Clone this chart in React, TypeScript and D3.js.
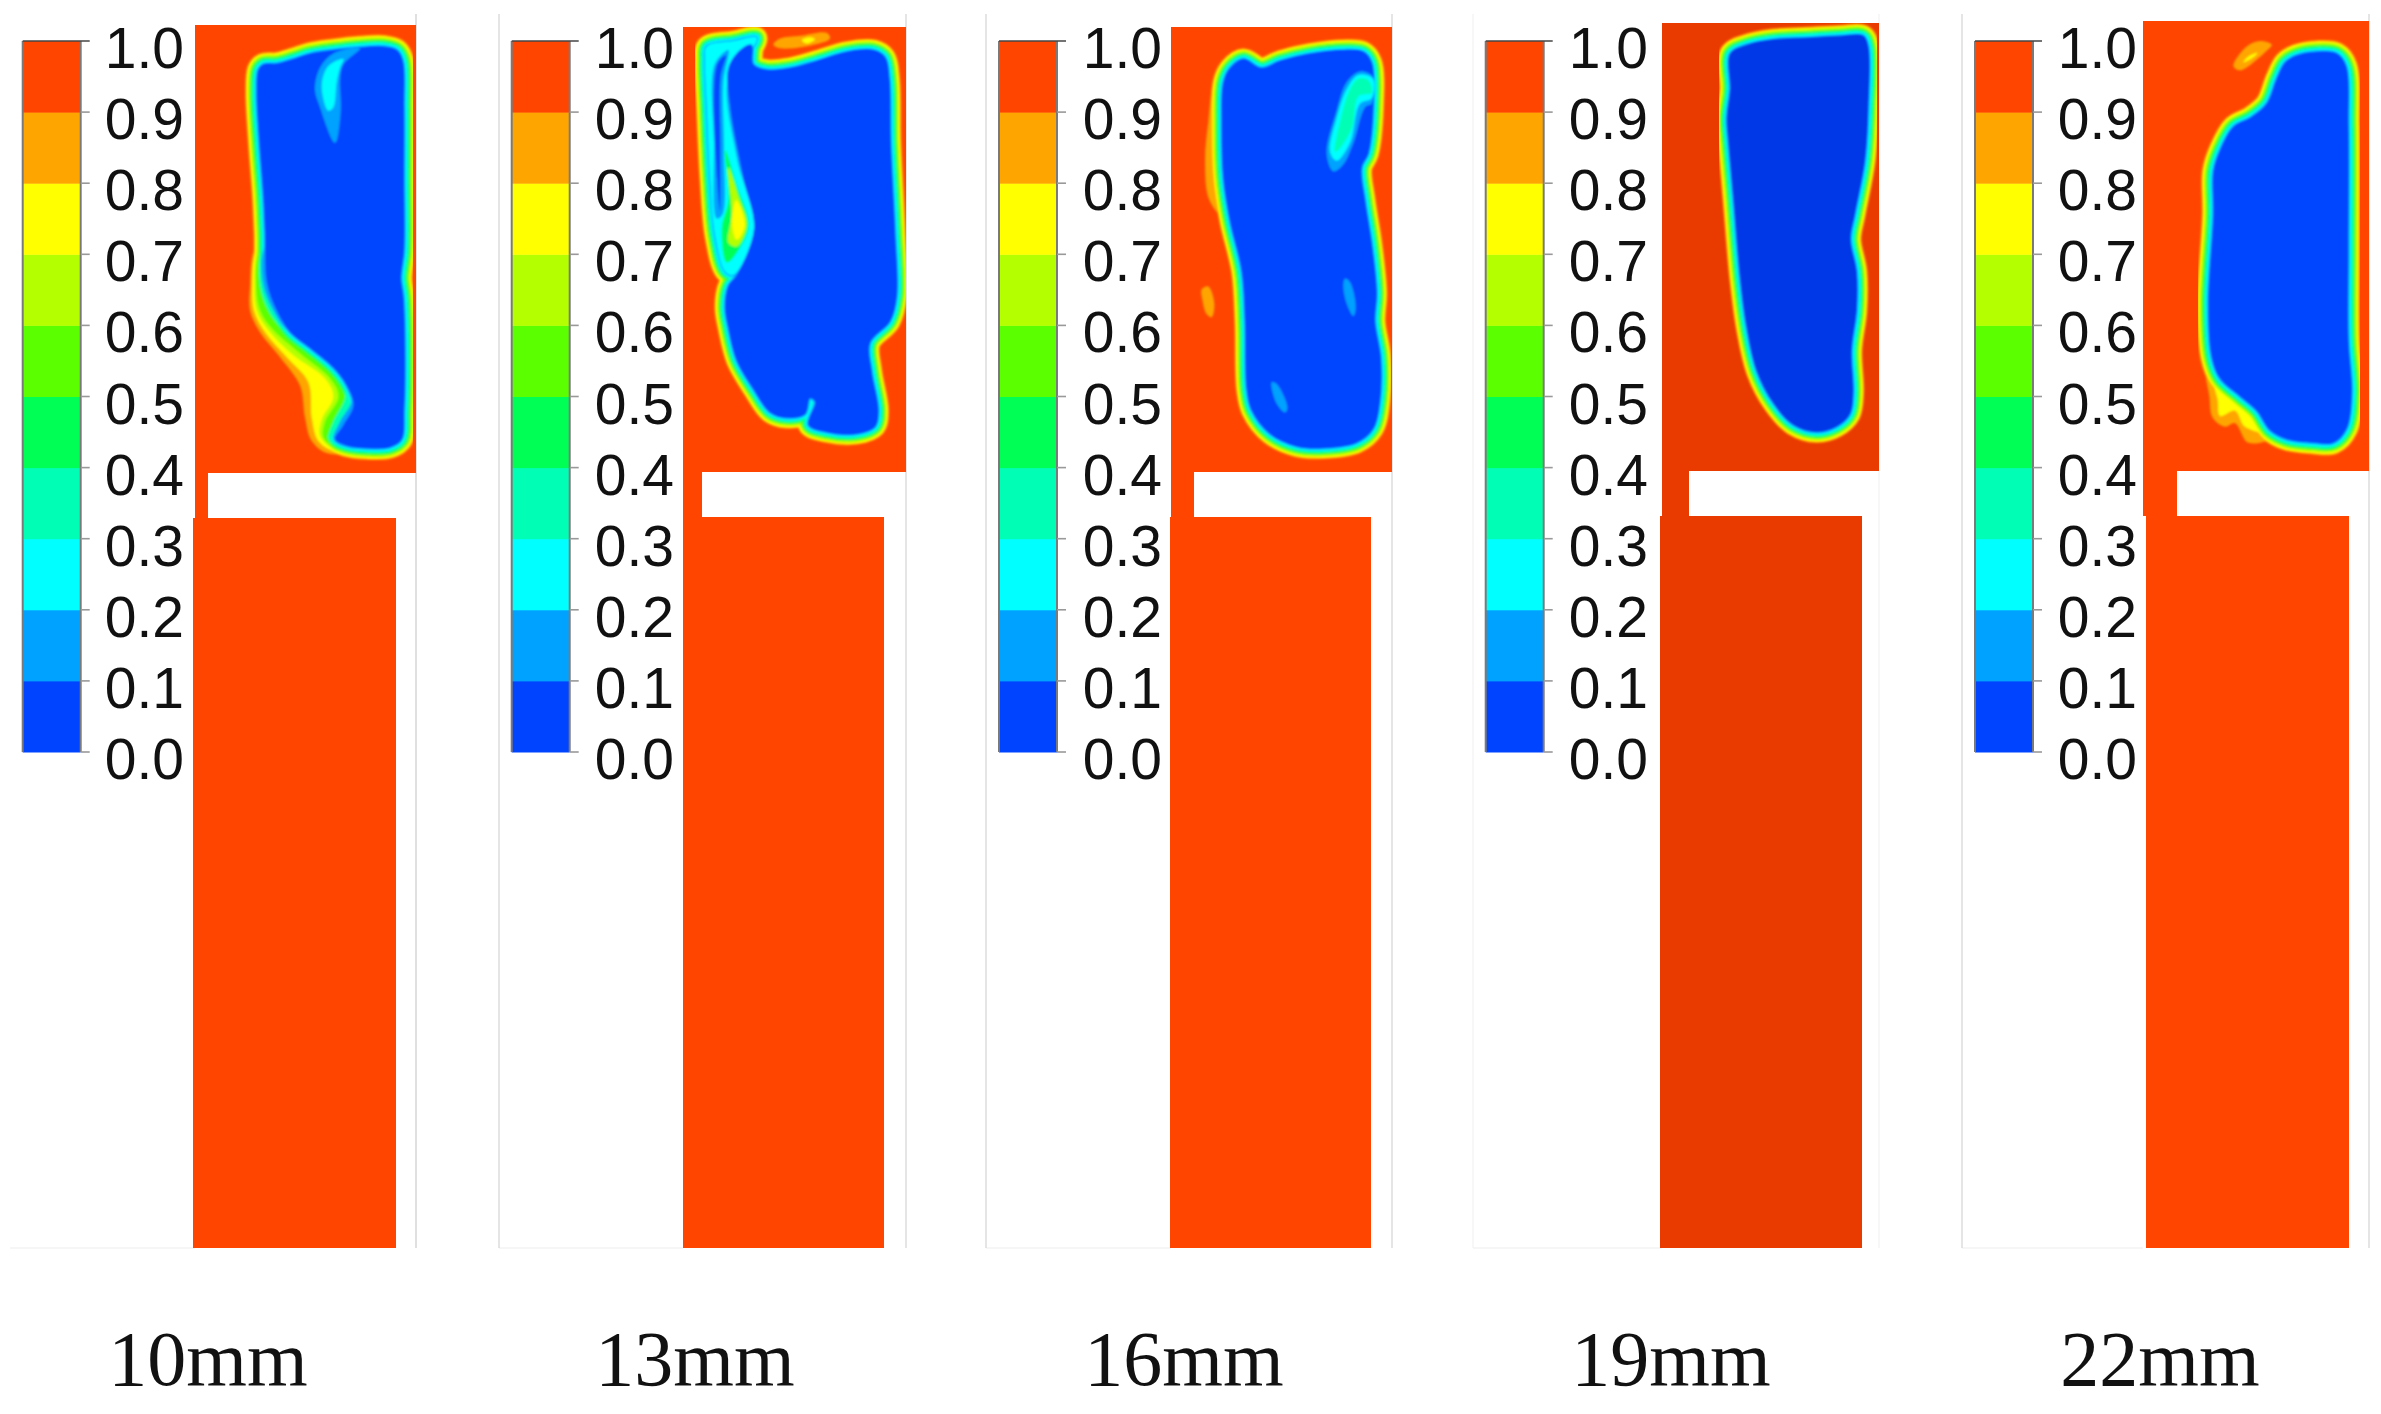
import React from 'react';
import * as d3 from 'd3';

// colour bar
const levelTicks = [0, 0.1, 0.2, 0.3, 0.4, 0.5, 0.6, 0.7, 0.8, 0.9, 1.0];
const levelColors = ['#0044ff', '#00a2ff', '#00ffff', '#00ffb4', '#00ff55', '#5cff00', '#b4ff00', '#ffff00', '#ffa500', '#ff4500'];
const bandLevels = [0.85, 0.75, 0.65, 0.55, 0.45, 0.35, 0.25, 0.15];

const panelLabels = ['10mm', '13mm', '16mm', '19mm', '22mm'];

type Pt = [number, number];
type Patch = { level: number; pts: Pt[] };

// contours in crop units (1440 x 1568 for a 480 x 560 px crop)
const core10: Pt[] = [[775, 195], [790, 180], [830, 178], [880, 165], [930, 150], [1000, 140], [1080, 132], [1150, 130], [1190, 140], [1208, 170], [1212, 300], [1212, 500], [1212, 700], [1203, 780], [1210, 830], [1215, 1000], [1212, 1150], [1205, 1230], [1170, 1252], [1100, 1255], [1040, 1248], [1005, 1230], [1030, 1190], [1060, 1135], [1040, 1080], [1000, 1030], [930, 975], [870, 930], [830, 870], [800, 790], [795, 650], [790, 550], [778, 400], [770, 260]];
// widened bands at the lower left of the 10mm pool
const fringe10: Patch[] = [
  { level: 0.85, pts: [[810, 640], [762, 700], [750, 800], [750, 870], [780, 930], [840, 1000], [900, 1080], [915, 1170], [935, 1235], [985, 1270], [1100, 1250], [1150, 1100], [1100, 850]] },
  { level: 0.75, pts: [[815, 640], [768, 700], [757, 800], [762, 870], [795, 930], [860, 1000], [925, 1070], [935, 1170], [955, 1235], [1000, 1262], [1100, 1250], [1150, 1100], [1100, 850]] },
  { level: 0.65, pts: [[820, 640], [773, 700], [763, 800], [770, 870], [805, 925], [880, 995], [975, 1060], [1000, 1110], [965, 1175], [960, 1220], [1005, 1258], [1100, 1250], [1150, 1100], [1100, 850]] },
  { level: 0.55, pts: [[825, 640], [778, 700], [768, 800], [780, 870], [815, 920], [900, 990], [990, 1060], [1015, 1110], [975, 1180], [970, 1225], [1010, 1255], [1100, 1250], [1150, 1100], [1100, 850]] },
  { level: 0.35, pts: [[830, 640], [785, 700], [780, 800], [805, 870], [840, 915], [925, 985], [1010, 1050], [1035, 1110], [1000, 1180], [985, 1230], [1020, 1252], [1100, 1250], [1150, 1100], [1100, 850]] },
  { level: 0.15, pts: [[835, 640], [790, 700], [790, 800], [820, 870], [860, 925], [945, 975], [1030, 1060], [1055, 1120], [1020, 1180], [1000, 1230], [1030, 1250], [1100, 1250], [1150, 1100], [1100, 850]] },
];
const over10: Patch[] = [
  { level: 0.15, pts: [[1080, 135], [1000, 150], [960, 190], [945, 250], [960, 300], [1005, 400], [1022, 310], [1020, 220], [1030, 180]] },
  { level: 0.25, pts: [[1030, 165], [985, 185], [965, 240], [985, 310], [1000, 300], [1010, 230], [1020, 190]] },
];

const core13: Pt[] = [[820, 180], [860, 195], [930, 190], [1010, 170], [1100, 145], [1180, 140], [1215, 160], [1228, 220], [1232, 400], [1245, 650], [1250, 830], [1230, 900], [1170, 960], [1175, 1040], [1195, 1150], [1185, 1195], [1130, 1215], [1040, 1210], [985, 1190], [1005, 1125], [990, 1115], [975, 1160], [920, 1170], [870, 1155], [820, 1090], [770, 1010], [745, 920], [735, 860], [745, 800], [770, 770], [822, 640], [790, 500], [750, 300], [745, 190], [780, 140], [815, 125]];
const lobe13: Pt[] = [[680, 130], [760, 115], [830, 105], [815, 140], [745, 220], [770, 440], [822, 640], [760, 770], [735, 760], [705, 660], [690, 500], [680, 300], [675, 170]];
const under13: Patch[] = [
  { level: 0.25, pts: lobe13 },
  { level: 0.15, pts: [[704, 180], [745, 140], [730, 230], [732, 420], [728, 600], [710, 612], [702, 400]] },
  { level: 0.05, pts: [[711, 180], [738, 155], [722, 215], [721, 400], [720, 590], [711, 500]] },
  { level: 0.45, pts: [[735, 420], [770, 520], [805, 630], [775, 700], [740, 735], [725, 640], [745, 560]] },
  { level: 0.65, pts: [[745, 470], [775, 550], [800, 630], [770, 690], [745, 680], [755, 600]] },
  { level: 0.75, pts: [[768, 560], [795, 630], [770, 672], [755, 625]] },
];
const over13: Patch[] = [
  { level: 0.85, pts: [[880, 125], [900, 108], [960, 100], [1040, 92], [1050, 108], [990, 128], [900, 135]] },
  { level: 0.75, pts: [[965, 112], [990, 104], [1005, 110], [980, 122]] },
];

const core16: Pt[] = [[790, 230], [810, 190], [850, 165], [905, 190], [960, 170], [1050, 150], [1150, 140], [1210, 145], [1235, 175], [1240, 300], [1225, 430], [1205, 470], [1215, 560], [1235, 680], [1250, 820], [1245, 900], [1262, 1000], [1260, 1120], [1240, 1200], [1190, 1240], [1090, 1255], [1010, 1250], [930, 1215], [875, 1150], [860, 1090], [855, 900], [845, 760], [810, 620], [790, 500], [785, 350]];
const fringe16: Patch[] = [
  { level: 0.85, pts: [[765, 225], [745, 340], [735, 450], [748, 560], [795, 610], [810, 300]] },
];
const over16: Patch[] = [
  { level: 0.85, pts: [[725, 810], [745, 802], [763, 850], [755, 888], [740, 880], [727, 840]] },
  { level: 0.15, pts: [[1100, 430], [1120, 480], [1150, 460], [1180, 400], [1215, 300], [1235, 290], [1238, 215], [1200, 200], [1160, 230], [1130, 310]] },
  { level: 0.25, pts: [[1110, 425], [1130, 450], [1170, 400], [1200, 290], [1235, 275], [1238, 220], [1195, 210], [1160, 250], [1130, 330]] },
  { level: 0.35, pts: [[1125, 425], [1135, 420], [1175, 360], [1195, 270], [1235, 260], [1225, 225], [1195, 220], [1170, 250], [1140, 340]] },
  { level: 0.15, pts: [[1155, 780], [1170, 790], [1187, 860], [1180, 885], [1160, 850], [1150, 800]] },
  { level: 0.15, pts: [[935, 1070], [950, 1075], [982, 1140], [975, 1155], [950, 1130]] },
];

const core19: Pt[] = [[870, 150], [920, 125], [1000, 110], [1100, 105], [1200, 100], [1270, 100], [1285, 130], [1285, 300], [1275, 450], [1245, 600], [1232, 670], [1250, 760], [1250, 870], [1235, 980], [1240, 1100], [1230, 1160], [1190, 1195], [1130, 1210], [1060, 1190], [1000, 1130], [950, 1040], [920, 920], [900, 780], [880, 560], [865, 400], [860, 330], [870, 250]];

const core22: Pt[] = [[1095, 175], [1130, 155], [1190, 145], [1250, 150], [1278, 185], [1285, 350], [1285, 700], [1285, 950], [1295, 1100], [1280, 1200], [1240, 1240], [1180, 1240], [1100, 1230], [1050, 1205], [1010, 1150], [960, 1110], [900, 1060], [875, 1000], [865, 850], [880, 600], [880, 480], [900, 420], [940, 355], [990, 330], [1040, 290], [1070, 220]];
const fringe22: Patch[] = [
  { level: 0.85, pts: [[860, 1030], [868, 1110], [878, 1170], [915, 1195], [945, 1185], [985, 1240], [1060, 1220], [1000, 1100], [900, 1010]] },
  { level: 0.75, pts: [[880, 1060], [893, 1120], [900, 1165], [945, 1150], [975, 1195], [1050, 1210], [1000, 1100], [900, 1020]] },
];
const over22: Patch[] = [
  { level: 0.85, pts: [[940, 185], [960, 197], [1040, 142], [1055, 125], [1020, 115], [980, 130]] },
  { level: 0.75, pts: [[970, 175], [1005, 157], [1012, 148], [982, 160]] },
];

const cores = [[core10], [core13, lobe13], [core16], [core19], [core22]];
const fills = [core10, core13, core16, core19, core22];
const fringes = [fringe10, [], fringe16, [], fringe22];
const unders = [[], under13, [], [], []];
const overs = [over10, over13, over16, [], over22];

// layout
const W = 2381;
const H = 1414;
const cropLeft = [0, 480, 960, 1440, 1920];
const barLeft = [22.7, 511.7, 999, 1485.7, 1975];
const barWidth = 58;
const barTop = 41;
const barBottom = 752;
const labelRight = [184, 674, 1162, 1648, 2137];
const plateLeft = [195, 683, 1171, 1662, 2143];
const plateRight = [416, 906, 1392, 1879, 2369];
const plateTop = [25, 27, 27, 23, 21];
const plateMid = [473, 472, 472, 471, 471];
const slotLeft = [208, 702, 1194, 1689, 2177];
const slotBottom = [518, 517, 517, 516, 516];
const lowerLeft = [193, 683, 1170, 1660, 2146];
const lowerRight = [396, 884, 1371, 1862, 2349];
const plateBottom = 1248;
const frameLeft = [null, 499, 986, 1473, 1962];
const frameLineStart = [10, 499, 986, 1473, 1962];
const frameColors = ['#cccccc', '#d4d4d4', '#d4d4d4', '#f2f2f2', '#d4d4d4'];
const labelCenter = [208, 695, 1184, 1671, 2160];
const bandStep = [1.45, 1.35, 1.35, 1.35, 1.45];
const plateColors = ['#ff4500', '#ff4500', '#ff4500', '#e93b00', '#ff4500'];
const coreColors = ['#0044ff', '#0044ff', '#0044ff', '#0338e8', '#0044ff'];

const levelColor = d3.scaleQuantize<string>().domain([0, 1]).range(levelColors);
const levelY = d3.scaleLinear().domain([0, 1]).range([barBottom, barTop]);
const fmt = d3.format('.1f');

function Panel({ i }: { i: number }) {
  const x = d3.scaleLinear().domain([0, 1440]).range([cropLeft[i], cropLeft[i] + 480]);
  const y = d3.scaleLinear().domain([0, 1568]).range([0, 560]);
  const closed = d3.line<Pt>().x(d => x(d[0])).y(d => y(d[1])).curve(d3.curveCatmullRomClosed.alpha(0.5));
  const clipId = `plate-${i}`;
  const plate = plateColors[i];

  return (
    <g>
      {/* frame lines left over from the plot export */}
      <line x1={frameLineStart[i]} x2={plateLeft[i]} y1={plateBottom} y2={plateBottom} stroke="#eeeeee" strokeWidth={1.2} />
      {frameLeft[i] !== null && (
        <line x1={frameLeft[i] as number} x2={frameLeft[i] as number} y1={14} y2={plateBottom} stroke={frameColors[i]} strokeWidth={1.2} />
      )}
      <line x1={plateRight[i]} x2={plateRight[i]} y1={14} y2={plateBottom} stroke={frameColors[i]} strokeWidth={1.2} />

      {/* colour bar */}
      {levelColors.map((c, k) => (
        <rect
          key={c}
          x={barLeft[i]}
          width={barWidth}
          y={levelY(levelTicks[k + 1])}
          height={levelY(levelTicks[k]) - levelY(levelTicks[k + 1]) + 0.5}
          fill={c}
        />
      ))}
      <line x1={barLeft[i]} x2={barLeft[i]} y1={barTop} y2={barBottom} stroke="#7a7a7a" strokeWidth={2} />
      <line x1={barLeft[i] + barWidth} x2={barLeft[i] + barWidth} y1={barTop} y2={barBottom} stroke="#7a7a7a" strokeWidth={2} />
      {levelTicks.map(t => (
        <g key={t}>
          <line
            x1={barLeft[i] + (t === 1 ? 0 : barWidth)}
            x2={barLeft[i] + barWidth + 9}
            y1={levelY(t)}
            y2={levelY(t)}
            stroke={t === 1 ? '#444444' : '#999999'}
            strokeWidth={1.6}
          />
          <text
            x={labelRight[i]}
            y={levelY(t) + 27}
            textAnchor="end"
            fontFamily="'Liberation Sans', Arial, sans-serif"
            fontSize={57}
            fill="#111111"
          >
            {fmt(t)}
          </text>
        </g>
      ))}

      {/* plate */}
      <clipPath id={clipId}>
        <rect x={plateLeft[i]} y={plateTop[i]} width={plateRight[i] - plateLeft[i]} height={plateMid[i] - plateTop[i]} />
      </clipPath>
      <rect x={plateLeft[i]} y={plateTop[i]} width={plateRight[i] - plateLeft[i]} height={plateMid[i] - plateTop[i]} fill={plate} />
      <rect x={plateLeft[i]} y={plateMid[i]} width={slotLeft[i] - plateLeft[i]} height={slotBottom[i] - plateMid[i]} fill={plate} />
      <rect x={lowerLeft[i]} y={slotBottom[i]} width={lowerRight[i] - lowerLeft[i]} height={plateBottom - slotBottom[i]} fill={plate} />

      {/* contours: each level is painted over the one outside it, blue last */}
      <g clipPath={`url(#${clipId})`}>
        <g filter="url(#soft)">
          {bandLevels.map((lv, k) => (
            <g key={lv}>
              {cores[i].map((pts, m) => (
                <path
                  key={m}
                  d={closed(pts) as string}
                  fill="none"
                  stroke={levelColor(lv)}
                  strokeWidth={2 * (bandLevels.length - k) * bandStep[i]}
                  strokeLinejoin="round"
                />
              ))}
              {fringes[i].filter(p => p.level === lv).map((p, m) => (
                <path key={m} d={closed(p.pts) as string} fill={levelColor(p.level)} />
              ))}
            </g>
          ))}
          {unders[i].map((p, k) => (
            <path key={k} d={closed(p.pts) as string} fill={levelColor(p.level)} />
          ))}
          <path d={closed(fills[i]) as string} fill={coreColors[i]} />
          {overs[i].map((p, k) => (
            <path key={k} d={closed(p.pts) as string} fill={levelColor(p.level)} />
          ))}
        </g>
      </g>

      <text
        x={labelCenter[i]}
        y={1385}
        textAnchor="middle"
        fontFamily="'Liberation Serif', 'Times New Roman', serif"
        fontSize={78}
        fill="#111111"
      >
        {panelLabels[i]}
      </text>
    </g>
  );
}

export default function App() {
  return (
    <svg width={W} height={H} viewBox={`0 0 ${W} ${H}`} style={{ position: 'absolute', left: 0, top: 0, background: '#ffffff' }}>
      <defs>
        <filter id="soft" x="-5%" y="-5%" width="110%" height="110%">
          <feGaussianBlur stdDeviation="0.9" />
        </filter>
      </defs>
      {panelLabels.map((_, i) => (
        <Panel key={i} i={i} />
      ))}
    </svg>
  );
}
